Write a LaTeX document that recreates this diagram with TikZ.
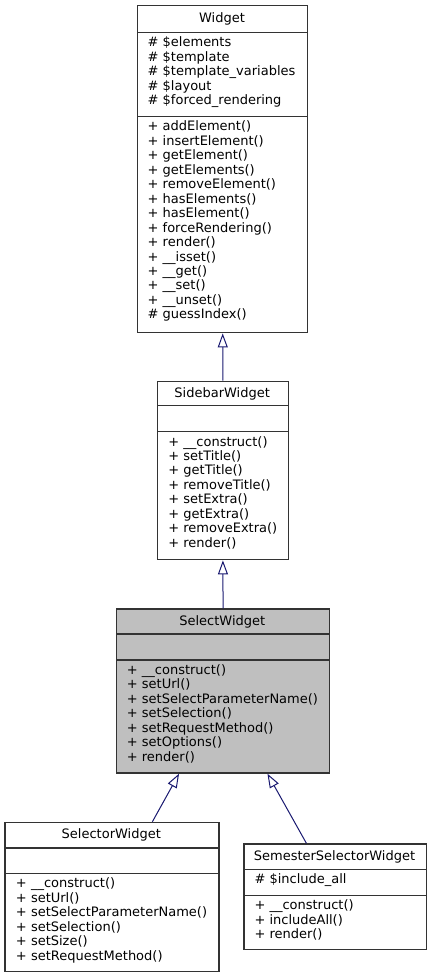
\documentclass[tikz,border=0pt]{standalone}
\usepackage{fontspec}
\setmainfont{DejaVu Sans}
\usetikzlibrary{arrows.meta}
\definecolor{boxline}{HTML}{333333}
\definecolor{selfill}{HTML}{BFBFBF}
\definecolor{edge}{HTML}{191970}
\tikzset{
  part/.style={rectangle, draw=boxline, line width=1.4pt, anchor=north west, inner sep=0pt, fill=white},
  selpart/.style={part, fill=selfill},
  mem/.style={anchor=base west, inner sep=0pt, font=\fontsize{13}{14.48}\selectfont},
  ttl/.style={anchor=base, inner sep=0pt, font=\fontsize{13}{14.48}\selectfont},
  inh/.style={draw=edge, line width=1pt, -{Triangle[open, length=14pt, width=10pt]}},
}
\newcommand\members[4]{%
  \foreach \txt [count=\i] in {#4} {\node[mem] (#1-\i) at (#2, {#3+(\i-1)*14.48}) {\txt};}%
}
\begin{document}
\begin{tikzpicture}[x=1pt, y=-1pt]
\useasboundingbox (0,0) rectangle (431,977);
% Widget
\node[part, minimum width=170pt, minimum height=26.7pt] (widget-t) at (137,5) {};
\node[part, minimum width=170pt, minimum height=84pt] (widget-a) at (137,31.7) {};
\node[part, minimum width=170pt, minimum height=216.3pt] (widget-m) at (137,115.7) {};
\node[ttl] (widget-title) at (222,22.5) {Widget};
\members{widget-at}{147.5}{46.7}{\# \$elements, \# \$template, \# \$template\_variables, \# \$layout, \# \$forced\_rendering}
\members{widget-me}{147.5}{130.7}{+ addElement(), + insertElement(), + getElement(), + getElements(), + removeElement(), + hasElements(), + hasElement(), + forceRendering(), + render(), + \_\_isset(), + \_\_get(), + \_\_set(), + \_\_unset(), \# guessIndex()}
% SidebarWidget
\node[part, minimum width=131pt, minimum height=24.3pt] (side-t) at (156.7,380.7) {};
\node[part, minimum width=131pt, minimum height=26pt] (side-a) at (156.7,405) {};
\node[part, minimum width=131pt, minimum height=128pt] (side-m) at (156.7,431) {};
\node[ttl] (side-title) at (222.2,397.5) {SidebarWidget};
\members{side-me}{168.2}{446}{+ \_\_construct(), + setTitle(), + getTitle(), + removeTitle(), + setExtra(), + getExtra(), + removeExtra(), + render()}
% SelectWidget
\node[selpart, minimum width=213.3pt, minimum height=25pt] (sel-t) at (115.7,608.3) {};
\node[selpart, minimum width=213.3pt, minimum height=26pt] (sel-a) at (115.7,633.3) {};
\node[selpart, minimum width=213.3pt, minimum height=113pt] (sel-m) at (115.7,659.3) {};
\node[ttl] (sel-title) at (222.3,625) {SelectWidget};
\members{sel-me}{126.7}{674.3}{+ \_\_construct(), + setUrl(), + setSelectParameterName(), + setSelection(), + setRequestMethod(), + setOptions(), + render()}
% SelectorWidget
\node[part, minimum width=214pt, minimum height=25.6pt] (selr-t) at (4.3,821.7) {};
\node[part, minimum width=214pt, minimum height=25.4pt] (selr-a) at (4.3,847.3) {};
\node[part, minimum width=214pt, minimum height=98.3pt] (selr-m) at (4.3,872.7) {};
\node[ttl] (selr-title) at (111.3,838.5) {SelectorWidget};
\members{selr-me}{15.8}{887.7}{+ \_\_construct(), + setUrl(), + setSelectParameterName(), + setSelection(), + setSize(), + setRequestMethod()}
% SemesterSelectorWidget
\node[part, minimum width=182.4pt, minimum height=25.4pt] (sem-t) at (243.3,843.3) {};
\node[part, minimum width=182.4pt, minimum height=26pt] (sem-a) at (243.3,868.7) {};
\node[part, minimum width=182.4pt, minimum height=54.3pt] (sem-m) at (243.3,894.7) {};
\node[ttl] (sem-title) at (334.5,860) {SemesterSelectorWidget};
\members{sem-at}{254.3}{883.7}{\# \$include\_all}
\members{sem-me}{254.3}{909.7}{+ \_\_construct(), + includeAll(), + render()}
% inheritance
\draw[inh] (side-t.north) -- (widget-m.south);
\draw[inh] (sel-t.north) -- (side-m.south);
\draw[inh] ([xshift=40.4pt]selr-t.north) -- ([xshift=-44pt]sel-m.south);
\draw[inh] ([xshift=-28.8pt]sem-t.north) -- ([xshift=44.4pt]sel-m.south);
\end{tikzpicture}
\end{document}
